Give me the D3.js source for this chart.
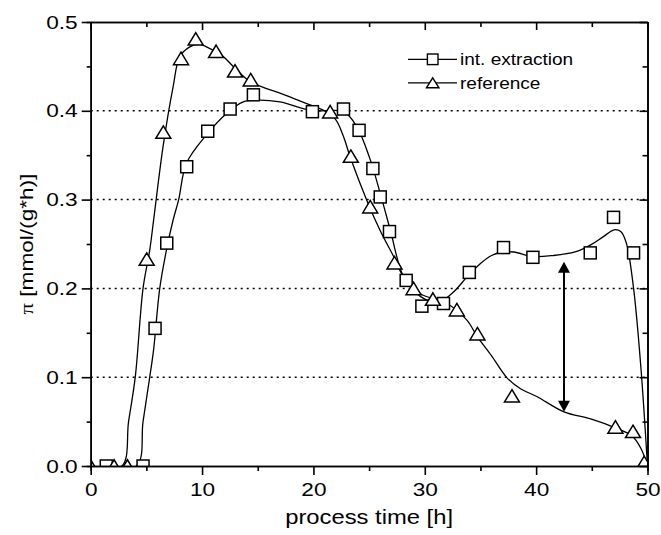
<!DOCTYPE html>
<html>
<head>
<meta charset="utf-8">
<script src="https://cdn.jsdelivr.net/npm/d3@7/dist/d3.min.js"></script>
<style>
body { margin: 0; background: #fff; }
text { font-family: "Liberation Sans", Arial, sans-serif; fill: #000; }
</style>
</head>
<body>
<div id="chart"></div>
<script>
// measured points, int. extraction (squares)
const extX = [1.4, 4.7, 5.78, 6.83, 8.62, 10.51, 12.52, 14.61, 19.91, 22.7, 24.1, 25.34, 26.0, 26.83, 28.33, 29.74, 31.68, 34.0, 37.07, 39.71, 44.86, 46.95, 48.75];
const extY = [0, 0, 0.155, 0.251, 0.337, 0.377, 0.402, 0.418, 0.399, 0.402, 0.378, 0.335, 0.303, 0.264, 0.209, 0.180, 0.183, 0.218, 0.246, 0.235, 0.240, 0.280, 0.240];
// measured points, reference (triangles)
const refX = [0, 2.1, 3.3, 5.03, 6.52, 8.11, 9.43, 11.26, 12.96, 14.37, 21.5, 23.36, 25.1, 27.28, 28.99, 30.73, 32.88, 34.73, 37.83, 47.12, 48.7, 49.7];
const refY = [0, 0, 0, 0.233, 0.376, 0.459, 0.481, 0.467, 0.445, 0.435, 0.399, 0.349, 0.292, 0.229, 0.200, 0.188, 0.176, 0.149, 0.079, 0.044, 0.039, 0.004];

// fitted curves
const extFitX = [0, 4.1, 4.7, 5.3, 5.65, 6.2, 6.8, 7.4, 7.9, 8.6, 10.4, 12.2, 13.7, 14.9, 17, 19.9, 22.7, 23.9, 25.1, 26, 26.9, 28.1, 29.6, 31.2, 32.5, 33.8, 35, 36, 37, 38, 39.7, 41.5, 43.5, 44.9, 46, 47, 47.6, 48.1, 48.75, 49.4, 50];
const extFitY = [0, 0, 0.05, 0.10, 0.131, 0.2, 0.243, 0.277, 0.30, 0.341, 0.373, 0.397, 0.41, 0.412, 0.41, 0.40, 0.399, 0.382, 0.345, 0.307, 0.266, 0.213, 0.191, 0.184, 0.195, 0.213, 0.228, 0.237, 0.241, 0.241, 0.236, 0.237, 0.241, 0.249, 0.258, 0.266, 0.264, 0.251, 0.2, 0.112, 0];
const refFitX = [0, 2.8, 3.4, 4.0, 4.7, 5.3, 5.65, 6.5, 7.4, 8.0, 8.9, 9.7, 10.4, 11.9, 13.1, 14.3, 15.8, 17, 19, 21, 22, 22.7, 23.3, 24.9, 26, 27.2, 28.1, 29.6, 32, 33.8, 34.7, 36, 37.4, 38.6, 40.1, 42.5, 44.9, 47.1, 48.6, 49.4, 50];
const refFitY = [0, 0, 0.05, 0.10, 0.20, 0.243, 0.277, 0.36, 0.427, 0.461, 0.472, 0.475, 0.472, 0.461, 0.446, 0.433, 0.425, 0.42, 0.41, 0.40, 0.39, 0.371, 0.348, 0.296, 0.265, 0.236, 0.213, 0.194, 0.183, 0.164, 0.146, 0.124, 0.099, 0.087, 0.078, 0.061, 0.053, 0.043, 0.034, 0.02, 0];

// double arrow marking the gap
const arrowX = 42.5;
const arrowY = [0.061, 0.23];

const xTicks = [0, 10, 20, 30, 40, 50];
const xMinor = [5, 15, 25, 35, 45];
const yTicks = [0.0, 0.1, 0.2, 0.3, 0.4, 0.5];
const yMinor = [0.05, 0.15, 0.25, 0.35, 0.45];
const gridValues = [0.1, 0.2, 0.3, 0.4];
const legendNames = ['int. extraction', 'reference'];

const width = 661, height = 535;
const x0 = 90.7, x1 = 647.5, y0 = 22, y1 = 466;
const sx = 1.19; // text looks horizontally stretched

const svg = d3.select('#chart').append('svg')
    .attr('width', width)
    .attr('height', height);

const x = d3.scaleLinear().domain([0, 50]).range([x0, x1]);
const y = d3.scaleLinear().domain([0, 0.5]).range([y1, y0]);

svg.append('clipPath').attr('id', 'plotClip')
  .append('rect')
    .attr('x', x0).attr('y', y0)
    .attr('width', x1 - x0).attr('height', y1 - y0);

// dotted grid
svg.append('g').selectAll('line')
    .data(gridValues)
    .enter().append('line')
        .attr('x1', x0).attr('x2', x1)
        .attr('y1', d => y(d)).attr('y2', d => y(d))
        .attr('stroke', '#000')
        .attr('stroke-width', 1.5)
        .attr('stroke-dasharray', '2,4');

const plot = svg.append('g').attr('clip-path', 'url(#plotClip)');

const line = d3.line()
    .x(d => x(d[0]))
    .y(d => y(d[1]))
    .curve(d3.curveCatmullRom.alpha(0.5));

[[extFitX, extFitY], [refFitX, refFitY]].forEach(([xs, ys]) => {
    plot.append('path')
        .datum(xs.map((v, i) => [v, ys[i]]))
        .attr('d', line)
        .attr('fill', 'none')
        .attr('stroke', '#000')
        .attr('stroke-width', 1.3);
});

function triPath(w, h) {
    return `M0,${-h / 2}L${w / 2},${h / 2}L${-w / 2},${h / 2}Z`;
}

plot.selectAll('.sq')
    .data(extX.map((v, i) => [v, extY[i]]))
    .enter().append('rect')
        .attr('class', 'sq')
        .attr('x', d => x(d[0]) - 6)
        .attr('y', d => y(d[1]) - 6)
        .attr('width', 12).attr('height', 12)
        .attr('fill', '#fff')
        .attr('stroke', '#000')
        .attr('stroke-width', 1.5);

plot.selectAll('.tri')
    .data(refX.map((v, i) => [v, refY[i]]))
    .enter().append('path')
        .attr('class', 'tri')
        .attr('d', triPath(15, 12.5))
        .attr('transform', d => `translate(${x(d[0])},${y(d[1])})`)
        .attr('fill', '#fff')
        .attr('stroke', '#000')
        .attr('stroke-width', 1.5)
        .attr('stroke-linejoin', 'miter');

// arrow
const ax = x(arrowX), aTop = y(arrowY[1]), aBot = y(arrowY[0]);
svg.append('line')
    .attr('x1', ax).attr('x2', ax)
    .attr('y1', aTop + 8).attr('y2', aBot - 8)
    .attr('stroke', '#000').attr('stroke-width', 2);
svg.append('path')
    .attr('d', `M${ax},${aTop}L${ax + 6},${aTop + 11}L${ax - 6},${aTop + 11}Z`)
    .attr('fill', '#000');
svg.append('path')
    .attr('d', `M${ax},${aBot}L${ax + 6},${aBot - 11}L${ax - 6},${aBot - 11}Z`)
    .attr('fill', '#000');

// axes
function styleAxis(g) {
    g.select('.domain').attr('stroke-width', 1.6);
    g.selectAll('.tick line').attr('stroke-width', 1.6);
}

const bottom = svg.append('g')
    .attr('transform', `translate(0,${y1})`)
    .call(d3.axisBottom(x).tickValues(xTicks).tickSize(9).tickPadding(8).tickSizeOuter(0).tickFormat(d3.format('d')));
bottom.call(styleAxis);
bottom.selectAll('text').attr('font-size', 19).attr('transform', `scale(${sx},1)`);

svg.append('g')
    .attr('transform', `translate(0,${y1})`)
    .call(d3.axisBottom(x).tickValues(xMinor).tickSize(5).tickFormat(''))
    .call(styleAxis);

const left = svg.append('g')
    .attr('transform', `translate(${x0},0)`)
    .call(d3.axisLeft(y).tickValues(yTicks).tickSize(9).tickPadding(4).tickSizeOuter(0).tickFormat(d3.format('.1f')));
left.call(styleAxis);
left.selectAll('text')
    .attr('font-size', 19)
    .attr('x', -13 / sx)
    .attr('transform', `scale(${sx},1)`);

svg.append('g')
    .attr('transform', `translate(${x0},0)`)
    .call(d3.axisLeft(y).tickValues(yMinor).tickSize(4).tickFormat(''))
    .call(styleAxis);

// top and right: inward ticks
svg.append('g')
    .attr('transform', `translate(0,${y0})`)
    .call(d3.axisBottom(x).tickValues(xTicks).tickSize(8).tickSizeOuter(0).tickFormat(''))
    .call(styleAxis);
svg.append('g')
    .attr('transform', `translate(0,${y0})`)
    .call(d3.axisBottom(x).tickValues(xMinor).tickSize(5).tickSizeOuter(0).tickFormat(''))
    .call(styleAxis);
svg.append('g')
    .attr('transform', `translate(${x1},0)`)
    .call(d3.axisLeft(y).tickValues(yTicks).tickSize(8).tickSizeOuter(0).tickFormat(''))
    .call(styleAxis);
svg.append('g')
    .attr('transform', `translate(${x1},0)`)
    .call(d3.axisLeft(y).tickValues(yMinor).tickSize(5).tickSizeOuter(0).tickFormat(''))
    .call(styleAxis);

// axis titles
svg.append('g')
    .attr('transform', `translate(${(x0 + x1) / 2},524)`)
  .append('text')
    .attr('text-anchor', 'middle')
    .attr('font-size', 20)
    .attr('transform', `scale(${sx},1)`)
    .text('process time [h]');

const yl = svg.append('g')
    .attr('transform', `translate(33,${(y0 + y1) / 2}) rotate(-90)`)
  .append('text')
    .attr('text-anchor', 'middle')
    .attr('font-size', 19)
    .attr('transform', `scale(${sx},1)`);
yl.append('tspan').attr('font-family', '"Liberation Serif", serif').text('π');
yl.append('tspan').text(' [mmol/(g*h)]');

// legend
const legend = svg.append('g');
legendNames.forEach((name, i) => {
    const ly = 59.3 + i * 23.5;
    legend.append('line')
        .attr('x1', 408).attr('x2', 457)
        .attr('y1', ly).attr('y2', ly)
        .attr('stroke', '#000').attr('stroke-width', 1.3);
    if (i === 0) {
        legend.append('rect')
            .attr('x', 432.7 - 5.3).attr('y', ly - 5.3)
            .attr('width', 10.6).attr('height', 10.6)
            .attr('fill', '#fff').attr('stroke', '#000').attr('stroke-width', 1.4);
    } else {
        legend.append('path')
            .attr('d', triPath(12.5, 10))
            .attr('transform', `translate(432.7,${ly})`)
            .attr('fill', '#fff').attr('stroke', '#000').attr('stroke-width', 1.4);
    }
    legend.append('g')
        .attr('transform', `translate(460,${ly})`)
      .append('text')
        .attr('font-size', 16)
        .attr('dy', '0.36em')
        .attr('transform', `scale(${sx},1)`)
        .text(name);
});
</script>
</body>
</html>
